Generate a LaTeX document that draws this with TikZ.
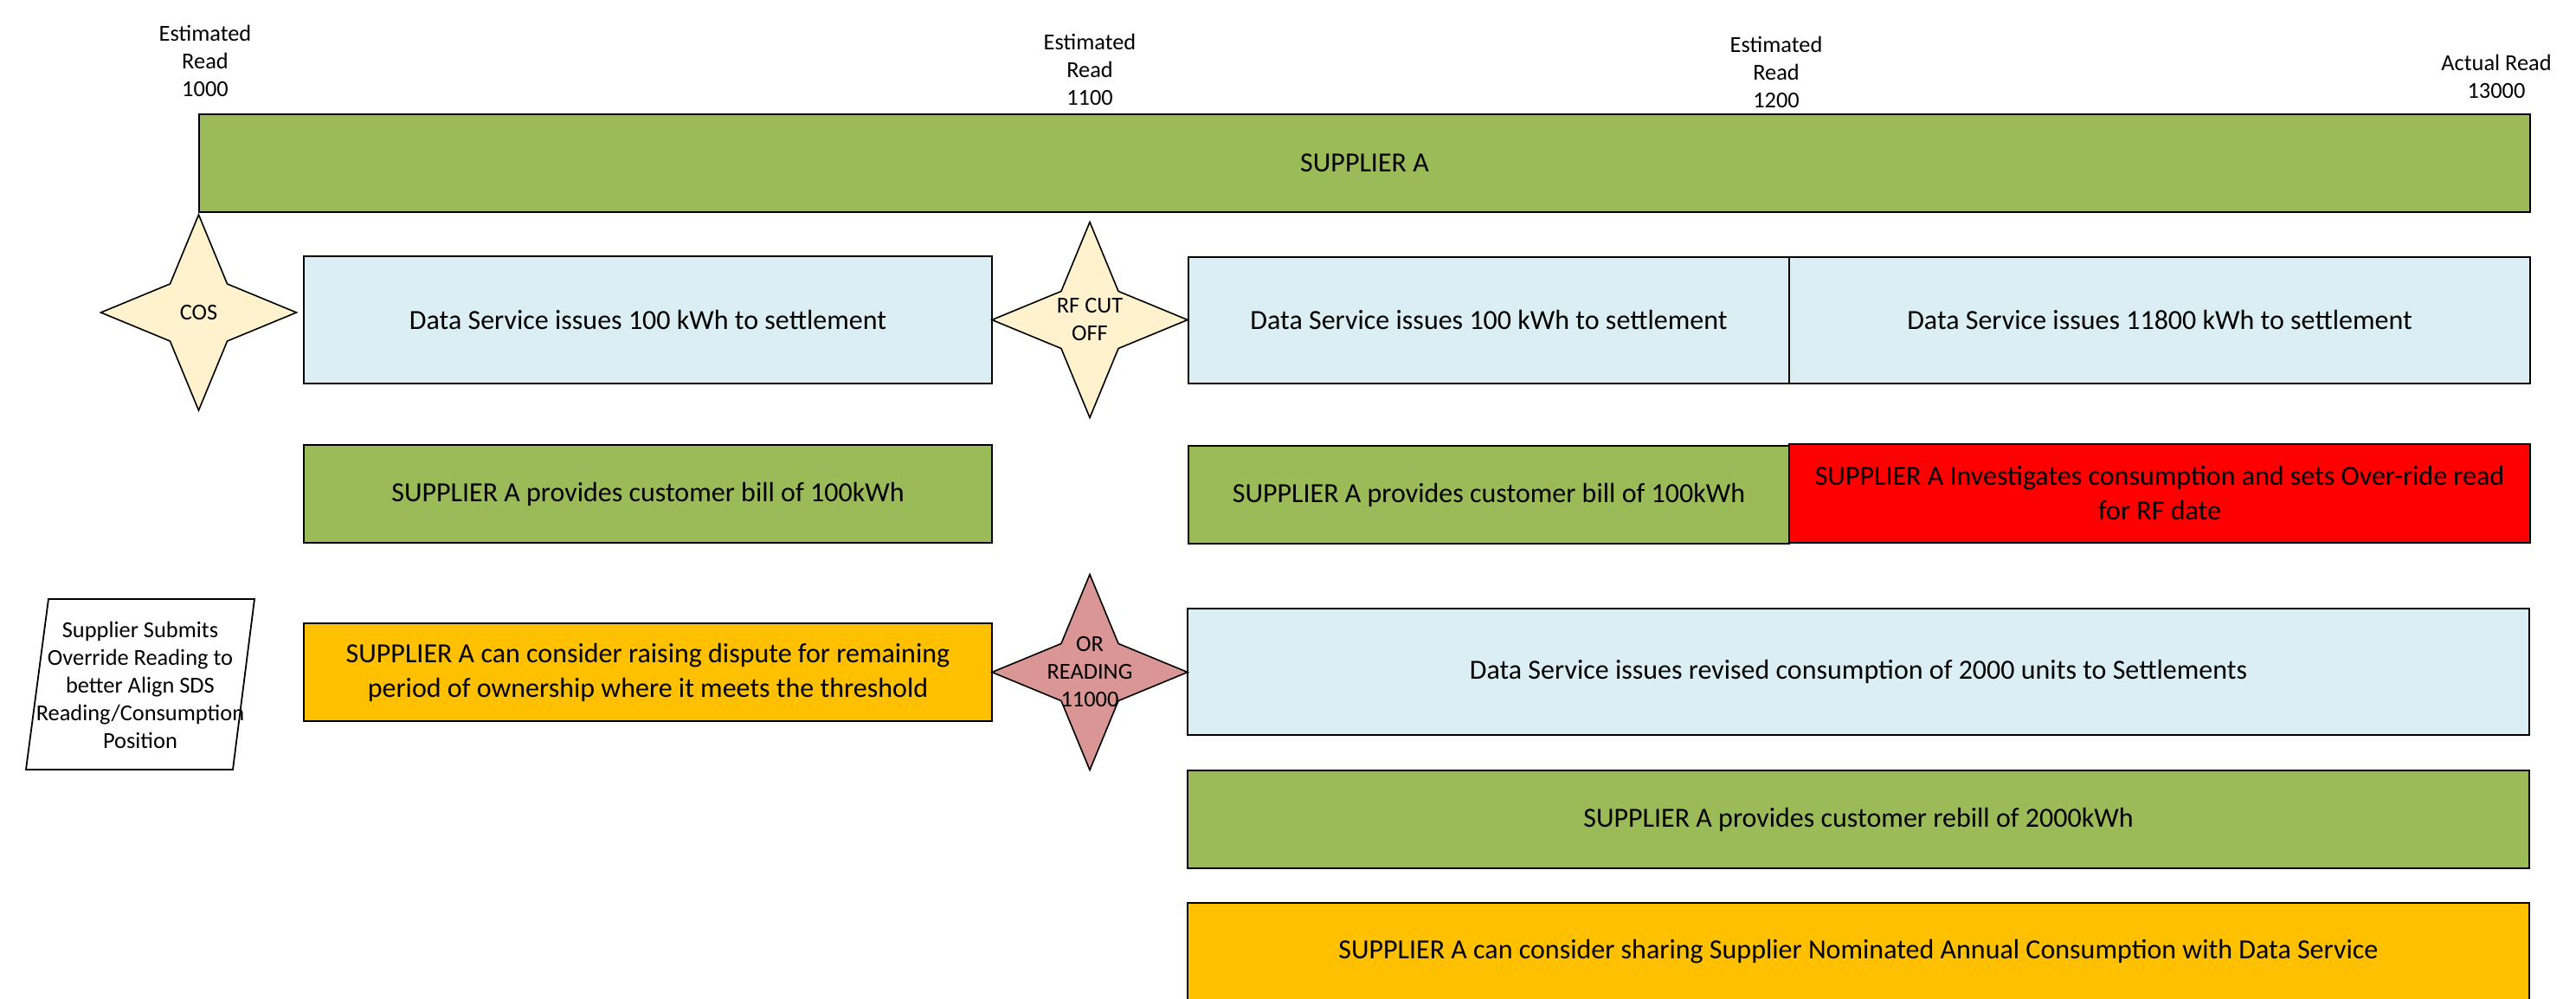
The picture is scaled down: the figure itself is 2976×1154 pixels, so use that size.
\documentclass[tikz,border=0pt]{standalone}
\usepackage{fontspec}
\setmainfont{Carlito}
\usetikzlibrary{shapes.geometric}
\definecolor{cgreen}{HTML}{9BBB59}
\definecolor{cblue}{HTML}{DAEEF3}
\definecolor{corange}{HTML}{FFC000}
\definecolor{cred}{HTML}{FF0000}
\definecolor{cbeige}{HTML}{FFF2CC}
\definecolor{cpink}{HTML}{D99694}
\tikzset{
  box/.style={draw=black, line width=0.55pt, inner sep=0pt, align=center,
    font=\fontsize{8}{10}\selectfont},
  starshape/.style={draw=black, line width=0.4pt, star, star points=4,
    star point ratio=2.42, minimum size=56.5pt, inner sep=0pt},
  smalltxt/.style={align=center, inner sep=0pt, font=\fontsize{6.6}{8}\selectfont},
  toplabel/.style={align=center, inner sep=0pt, font=\fontsize{6.6}{8}\selectfont},
}
\begin{document}
\begin{tikzpicture}[x=0.25pt,y=-0.25pt]
\useasboundingbox (0,0) rectangle (2976,1154);
\clip (0,0) rectangle (2976,1154);
% top labels
\node[toplabel] (l1) at (237,70) {Estimated\\Read\\1000};
\node[toplabel] (l2) at (1259,80) {Estimated\\Read\\1100};
\node[toplabel] (l3) at (2052,83) {Estimated\\Read\\1200};
\node[toplabel] (l4) at (2884,88) {Actual Read\\13000};
% main bar
\node[box, fill=cgreen, minimum width=673.25pt, minimum height=28.25pt] (bar) at (1576.5,188.5) {SUPPLIER A};
% row 1
\node[box, fill=cblue, minimum width=198.75pt, minimum height=36.75pt] (ds1) at (748.5,369.5) {Data Service issues 100 kWh to settlement};
\node[box, fill=cblue, minimum width=173.5pt, minimum height=36.5pt] (ds2) at (1720,370) {Data Service issues 100 kWh to settlement};
\node[box, fill=cblue, minimum width=214pt, minimum height=36.5pt] (ds3) at (2495,370) {Data Service issues 11800 kWh to settlement};
% row 2
\node[box, fill=cgreen, minimum width=198.75pt, minimum height=28.25pt] (bill1) at (748.5,570.5) {SUPPLIER A provides customer bill of 100kWh};
\node[box, fill=cgreen, minimum width=173.5pt, minimum height=28.25pt] (bill2) at (1720,571.5) {SUPPLIER A provides customer bill of 100kWh};
\node[box, fill=cred, minimum width=214pt, minimum height=28.5pt] (red) at (2495,570) {SUPPLIER A Investigates consumption and sets Over-ride read\\for RF date};
% row 3
\node[box, fill=corange, minimum width=198.75pt, minimum height=28.25pt] (disp) at (748.5,776.5) {SUPPLIER A can consider raising dispute for remaining\\period of ownership where it meets the threshold};
\node[box, fill=cblue, minimum width=387.5pt, minimum height=36.5pt] (rev) at (2147,776) {Data Service issues revised consumption of 2000 units to Settlements};
\node[box, fill=cgreen, minimum width=387.5pt, minimum height=28.25pt] (rebill) at (2147,946.5) {SUPPLIER A provides customer rebill of 2000kWh};
\node[box, fill=corange, minimum width=387.5pt, minimum height=28.25pt] (share) at (2147,1099.5) {SUPPLIER A can consider sharing Supplier Nominated Annual Consumption with Data Service};
% stars
\node[starshape, fill=cbeige] (cos) at (229.5,361) {};
\node[smalltxt] (cost) at (cos.center) {COS};
\node[starshape, fill=cbeige] (rf) at (1259,369.5) {};
\node[smalltxt] (rft) at (rf.center) {RF CUT\\OFF};
\node[starshape, fill=cpink] (orr) at (1259,776.5) {};
\node[smalltxt] (ort) at (orr.center) {OR\\READING\\11000};
% parallelogram
\coordinate (p1) at (56,692);
\coordinate (p2) at (294,692);
\coordinate (p3) at (269,889);
\coordinate (p4) at (30,889);
\draw[line width=0.45pt, fill=white] (p1) -- (p2) -- (p3) -- (p4) -- cycle;
\node[smalltxt] (pt) at (162,791) {Supplier Submits\\Override Reading to\\better Align SDS\\Reading/Consumption\\Position};
\end{tikzpicture}
\end{document}
